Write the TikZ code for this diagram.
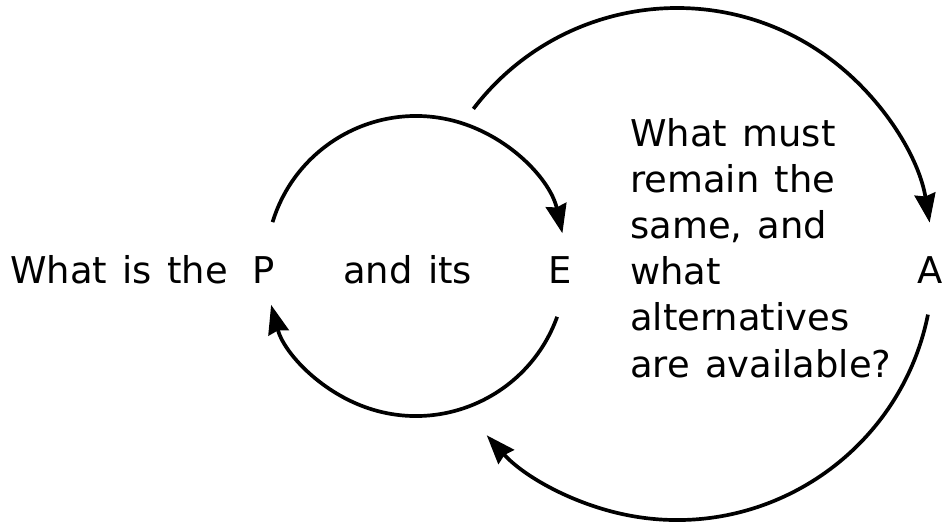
\documentclass[tikz,border=0pt]{standalone}
\usepackage{fontspec}
\setmainfont{DejaVu Sans}[WordSpace=1.3]
\usepackage{tikz}
\usetikzlibrary{arrows.meta}
\tikzset{roundarc/.style={line width=2.1pt,-{Stealth[length=0.58cm,width=0.42cm,inset=0.05cm]}}}
\tikzset{word/.style={inner sep=0pt,anchor=base west,font=\fontsize{21}{26.2}\selectfont}}

\begin{document}
\begin{tikzpicture}[x=0.02cm,y=0.02cm]
            \useasboundingbox (0,0) rectangle (952,522);
            % the centres of the two cycles
            \coordinate (inner) at (416,256);
            \coordinate (outer) at (677,258);
            % the words on the middle line
            \node[word] (question) at (10,239) {What is the};
            \node[word] (p) at (252,239) {P};
            \node[word] (its) at (343,239) {and its};
            \node[word] (e) at (548,239) {E};
            \node[word] (a) at (917,239) {A};
            \node[word,align=left] (same) at (630,145) {What must\\remain the\\same, and\\what\\alternatives\\are available?};
            % the small cycle between P and E
            \draw[roundarc] ([shift={(163:150)}]inner) arc[start angle=163,end angle=12.6,radius=150];
            \draw[roundarc] ([shift={(-19.8:150)}]inner) arc[start angle=-19.8,end angle=-165,radius=150];
            % the large cycle between E and A
            \draw[roundarc] ([shift={(142.7:256)}]outer) arc[start angle=142.7,end angle=9.3,radius=256];
            \draw[roundarc] ([shift={(-11.4:256)}]outer) arc[start angle=-11.4,end angle=-138,radius=256];
        \end{tikzpicture}
\end{document}
